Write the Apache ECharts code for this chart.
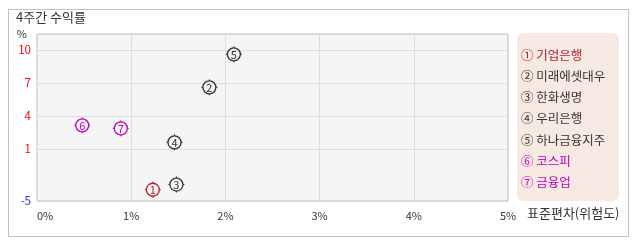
<!DOCTYPE html>
<html><head><meta charset="utf-8">
<script src="https://cdn.jsdelivr.net/npm/echarts@6/dist/echarts.min.js"></script>
<style>html,body{margin:0;padding:0;background:#fff}#c{width:638px;height:242px}</style>
</head><body><div id="c"></div>
<script>
const names = ['기업은행','미래에셋대우','한화생명','우리은행','하나금융지주','코스피','금융업'];
const marks = ['①','②','③','④','⑤','⑥','⑦'];
const stdDev = [1.23, 1.83, 1.48, 1.46, 2.09, 0.48, 0.89];   // x, %
const returns = [-3.7, 6.6, -3.1, 1.6, 9.6, 3.15, 2.87];     // y, %
const colors = ['#b0202a','#333333','#333333','#333333','#333333','#c000c0','#c000c0'];
const xTicks = [0,1,2,3,4,5];
const yTicks = [-5,1,4,7,10];
const yTickColors = ['#3333ff','#ff0000','#ff0000','#ff0000','#ff0000'];

// y axis is compressed below 1
const K = 0.788;
const t = v => v >= 1 ? v : 1 + (v - 1) * K;
const tInv = v => v >= 1 ? v : 1 + (v - 1) / K;
const font = '"Noto Sans CJK KR", sans-serif';

const chart = echarts.init(document.getElementById('c'));
const data = stdDev.map((x,i)=>[x, t(returns[i]), i]);
const legendY0 = 55, legendStep = 21.2;

chart.setOption({
  animation:false,
  textStyle:{fontFamily:font},
  grid:{left:37, top:34, width:471, height:167, show:true, backgroundColor:'#f5f5f5', borderColor:'#b8b8b8', borderWidth:1},
  xAxis:{type:'value', min:0, max:5, interval:1,
    axisLine:{show:false, onZero:false}, axisTick:{show:false},
    splitLine:{lineStyle:{color:'#dcdcdc'}},
    axisLabel:{formatter:'{value}%', color:'#333', fontSize:11, margin:9, fontFamily:font, alignMinLabel:'left'},
    name:'표준편차(위험도)', nameLocation:'end', nameGap:19,
    nameTextStyle:{color:'#333', fontSize:13, fontFamily:font, verticalAlign:'top', padding:[6,0,0,0]}
  },
  yAxis:{type:'value', min:t(-5), max:11.45,
    axisLine:{show:false, onZero:false}, axisTick:{show:false, customValues: yTicks.map(t)},
    splitLine:{show:false},
    axisLabel:{customValues: yTicks.map(t), margin:6, fontSize:11.5, fontFamily:font,
      formatter: v => String(Math.round(tInv(v))),
      color: (v) => { const i = yTicks.indexOf(Math.round(tInv(v))); return yTickColors[i] || '#f00'; }
    },
    name:'%', nameLocation:'end', nameGap:0,
    nameTextStyle:{color:'#333', fontSize:11, fontFamily:font, align:'right', verticalAlign:'middle', padding:[0,10,0,0]}
  },
  series:[
    {type:'line', data:[], markLine:{silent:true, symbol:'none', label:{show:false},
      lineStyle:{color:'#dcdcdc', type:'solid', width:1},
      data: yTicks.slice(1).map(v=>({yAxis:t(v)}))}},
    {type:'custom', data:data, z:5,
    renderItem:(params, api)=>{
      const p = api.coord([api.value(0), api.value(1)]);
      const i = api.value(2);
      const c = colors[i];
      const r = 6.5;
      const children = [
        {type:'circle', shape:{cx:p[0], cy:p[1], r:r}, style:{fill:'none', stroke:c, lineWidth:1.3}},
        {type:'line', shape:{x1:p[0], y1:p[1]-r, x2:p[0], y2:p[1]-r-1.5}, style:{stroke:c, lineWidth:1}},
        {type:'line', shape:{x1:p[0], y1:p[1]+r, x2:p[0], y2:p[1]+r+1.5}, style:{stroke:c, lineWidth:1}},
        {type:'line', shape:{x1:p[0]-r, y1:p[1], x2:p[0]-r-1.5, y2:p[1]}, style:{stroke:c, lineWidth:1}},
        {type:'line', shape:{x1:p[0]+r, y1:p[1], x2:p[0]+r+1.5, y2:p[1]}, style:{stroke:c, lineWidth:1}},
        {type:'text', style:{x:p[0], y:p[1]+0.5, text:String(i+1), fill:c, font:'11px '+font, align:'center', verticalAlign:'middle'}}
      ];
      return {type:'group', children};
    }}
  ],
  graphic:[
    {type:'rect', left:6, top:7, shape:{width:620, height:227}, style:{fill:'none', stroke:'#c0c0c0', lineWidth:1}, z:-10},
    {type:'text', left:16, top:11, style:{text:'4주간 수익률', fill:'#333', font:'13px '+font}},
    {type:'rect', shape:{x:517, y:33, width:102, height:168, r:6}, style:{fill:'#f6e9e2'}},
    ...names.map((n,i)=>({type:'text', x:521, y:legendY0 + i*legendStep,
      style:{text:marks[i]+' '+n, fill:colors[i], font:'12.5px '+font, verticalAlign:'middle'}}))
  ]
});
</script></body></html>
